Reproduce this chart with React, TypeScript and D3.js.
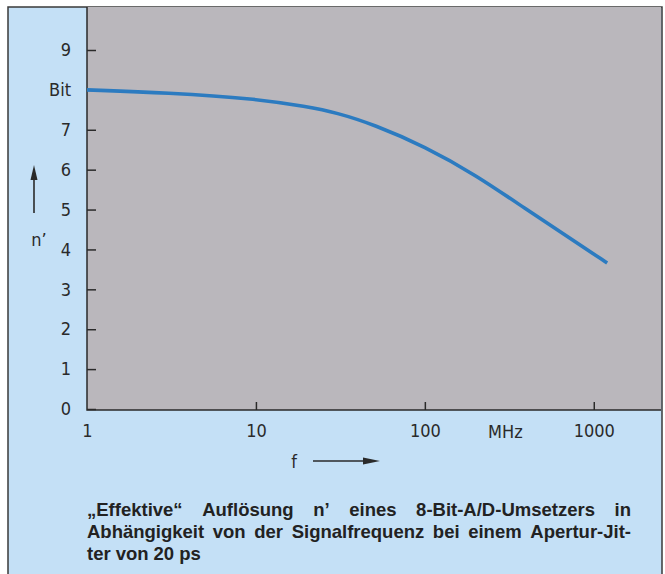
import React, { useEffect, useRef } from 'react';
import * as d3 from 'd3';

// signal frequency in MHz and effective resolution n' in bit
const freqMHz = [1, 3, 10, 20, 30, 50, 100, 200, 400, 700, 1200];
const effBits = [8.0, 7.93, 7.78, 7.58, 7.43, 7.13, 6.58, 5.87, 5.0, 4.32, 3.66];

const yTicks = [0, 1, 2, 3, 4, 5, 6, 7, 8, 9];
const yTickLabels = ['0', '1', '2', '3', '4', '5', '6', '7', 'Bit', '9'];
const xTicks = [1, 10, 100, 1000];
const xTickLabels = ['1', '10', '100', '1000'];

const captionLines = [
  '„Effektive“ Auflösung n’ eines 8-Bit-A/D-Umsetzers in',
  'Abhängigkeit von der Signalfrequenz bei einem Apertur-Jit-',
  'ter von 20 ps',
];

const W = 665;
const H = 574;
const tickFont = '"Liberation Sans Narrow", "DejaVu Sans Condensed", sans-serif';

export default function App() {
  const ref = useRef<SVGSVGElement>(null);

  useEffect(() => {
    const svg = d3.select(ref.current);
    svg.selectAll('*').remove();

    const left = 87, right = 661, top = 7, bottom = 410;

    const x = d3.scaleLog().domain([1, 2500]).range([left, right]);
    const y = d3.scaleLinear().domain([0, 9]).range([409, 50]);

    // blue panel
    svg.append('rect')
      .attr('x', 8).attr('y', 7)
      .attr('width', 654).attr('height', H)
      .attr('fill', '#c4e0f6')
      .attr('stroke', '#3a3a3a').attr('stroke-width', 1.5);

    // grey plot area
    svg.append('rect')
      .attr('x', left).attr('y', top)
      .attr('width', right - left).attr('height', bottom - top)
      .attr('fill', '#bab7bc');

    svg.append('path')
      .attr('d', `M${left},${top}V${bottom}H${right}`)
      .attr('fill', 'none')
      .attr('stroke', '#2a2a2a').attr('stroke-width', 1.5);

    // y axis, ticks pointing into the plot
    const yAxis = svg.append('g')
      .attr('transform', `translate(${left},0)`)
      .call(d3.axisLeft(y)
        .tickValues(yTicks)
        .tickFormat((d, i) => yTickLabels[i])
        .tickSizeInner(-9).tickSizeOuter(0).tickPadding(16));
    yAxis.select('.domain').remove();
    yAxis.selectAll('line').attr('stroke', '#2a2a2a').attr('stroke-width', 1.5);
    yAxis.selectAll('text')
      .attr('font-family', tickFont).attr('font-size', 18).attr('fill', '#2a2a2a');

    // x axis
    const xAxis = svg.append('g')
      .attr('transform', `translate(0,${bottom})`)
      .call(d3.axisBottom(x)
        .tickValues(xTicks)
        .tickFormat((d, i) => xTickLabels[i])
        .tickSizeInner(-8).tickSizeOuter(0).tickPadding(14));
    xAxis.select('.domain').remove();
    xAxis.selectAll('line').attr('stroke', '#2a2a2a').attr('stroke-width', 1.5);
    xAxis.selectAll('line').filter((d) => d === 1).remove();
    xAxis.selectAll('text')
      .attr('font-family', tickFont).attr('font-size', 18).attr('fill', '#2a2a2a');

    svg.append('text')
      .attr('x', x(300)).attr('y', 438)
      .attr('text-anchor', 'middle')
      .attr('font-family', tickFont).attr('font-size', 18).attr('fill', '#2a2a2a')
      .text('MHz');

    // axis symbols with arrows
    svg.append('text')
      .attr('x', 39).attr('y', 246)
      .attr('text-anchor', 'middle')
      .attr('font-family', tickFont).attr('font-size', 18).attr('fill', '#2a2a2a')
      .text('n’');
    svg.append('line')
      .attr('x1', 34).attr('y1', 213).attr('x2', 34).attr('y2', 176)
      .attr('stroke', '#2a2a2a').attr('stroke-width', 1.6);
    svg.append('path')
      .attr('d', 'M34,165L30.5,180L37.5,180Z')
      .attr('fill', '#2a2a2a');

    svg.append('text')
      .attr('x', 294).attr('y', 468)
      .attr('text-anchor', 'middle')
      .attr('font-family', tickFont).attr('font-size', 18).attr('fill', '#2a2a2a')
      .text('f');
    svg.append('line')
      .attr('x1', 313).attr('y1', 461).attr('x2', 366).attr('y2', 461)
      .attr('stroke', '#2a2a2a').attr('stroke-width', 1.6);
    svg.append('path')
      .attr('d', 'M380,461L363,457.5L363,464.5Z')
      .attr('fill', '#2a2a2a');

    // curve
    const pts = freqMHz.map((f, i) => [f, effBits[i]] as [number, number]);
    svg.append('path')
      .datum(pts)
      .attr('d', d3.line<[number, number]>()
        .x((d) => x(d[0]))
        .y((d) => y(d[1]))
        .curve(d3.curveBasis))
      .attr('fill', 'none')
      .attr('stroke', '#2c7bc0').attr('stroke-width', 3.6)
      .attr('stroke-linecap', 'butt');

    // caption, first two lines justified
    const capLeft = 87, capRight = 631;
    const baselines = [516, 538, 560];
    captionLines.forEach((line, li) => {
      const words = line.split(' ');
      const g = svg.append('g');
      const nodes = words.map((w) => g.append('text')
        .attr('y', baselines[li])
        .attr('font-family', '"Liberation Sans", Arial, sans-serif')
        .attr('font-weight', 'bold').attr('font-size', 18.5)
        .attr('fill', '#222')
        .text(w));
      const widths = nodes.map((n) => (n.node() as SVGTextElement).getComputedTextLength());
      const total = d3.sum(widths);
      const justify = li < captionLines.length - 1;
      const gap = justify ? (capRight - capLeft - total) / (words.length - 1) : 5;
      let cx = capLeft;
      nodes.forEach((n, i) => {
        n.attr('x', cx);
        cx += widths[i] + gap;
      });
    });
  }, []);

  return (
    <svg ref={ref} width={W} height={H}
      style={{ position: 'absolute', left: 0, top: 0, background: '#fff' }} />
  );
}
